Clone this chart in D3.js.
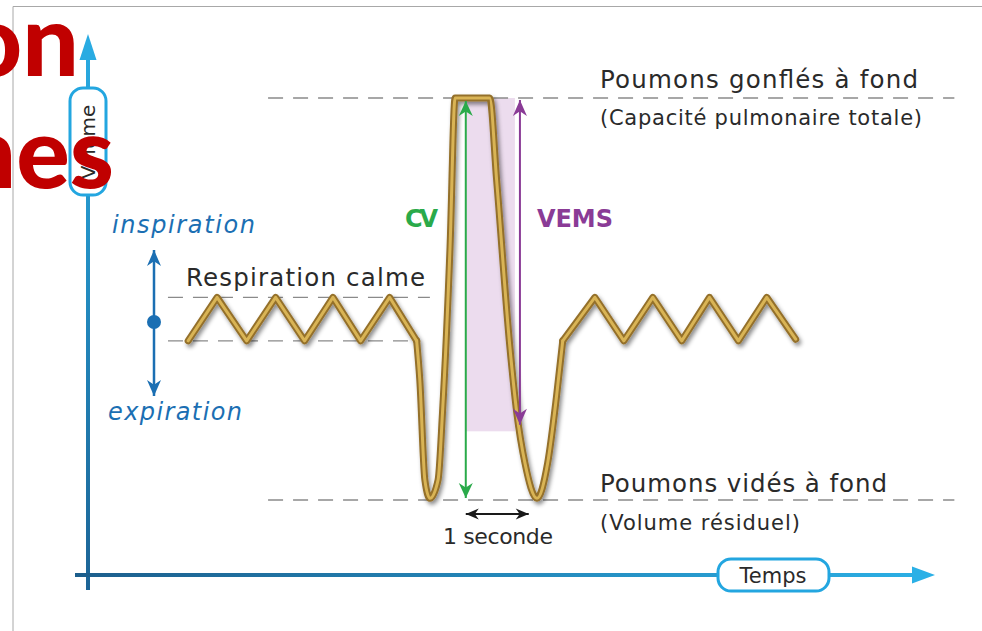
<!DOCTYPE html>
<html>
<head>
<meta charset="utf-8">
<script src="https://cdn.jsdelivr.net/npm/d3@7"></script>
<style>
  body { margin: 0; background: #fff; }
  svg { display: block; font-family: "DejaVu Sans", Roboto, sans-serif; }
</style>
</head>
<body>
<div id="chart"></div>
<script>
// time in seconds, volume in litres
const calmBeforeT = [1.59, 2.05, 2.52, 2.98, 3.44, 3.89, 4.33, 4.79, 5.22];
const calmBeforeV = [3.1, 3.62, 3.1, 3.62, 3.1, 3.62, 3.1, 3.62, 3.1];

const maneuverT = [5.22, 5.27, 5.35, 5.43, 5.56, 5.63, 5.75, 5.83, 6.38, 6.49, 6.70, 6.81, 6.94, 7.13, 7.30, 7.44, 7.54];
const maneuverV = [3.1, 2.63, 1.44, 1.22, 1.44, 2.24, 4.22, 6.0, 6.0, 5.02, 3.03, 2.24, 1.64, 1.22, 1.64, 2.43, 3.1];

const calmAfterT = [7.54, 8.05, 8.51, 8.97, 9.43, 9.87, 10.33, 10.78, 11.24];
const calmAfterV = [3.1, 3.62, 3.1, 3.62, 3.1, 3.62, 3.1, 3.62, 3.12];

// reference levels (dashed lines)
const levelV = [6.0, 1.2, 3.62, 3.1];
const levelStart = [2.86, 2.86, 1.27, 1.27];
const levelEnd = [13.76, 13.76, 5.43, 5.19];

const cvT = 6.0;          // capacité vitale arrow
const vemsT = 6.86;       // VEMS arrow
const vemsV = 2.1;        // volume reached after 1 s
const shadeT = [6.0, 6.78];
const shadeV = [2.02, 6.0];
const secondT = [6.0, 7.0];

const width = 982;
const height = 631;

const x = d3.scaleLinear([0, 13.5], [88, 938]);
const y = d3.scaleLinear([1.2, 6.0], [500, 98]);

const svg = d3.select("#chart")
  .append("svg")
  .attr("width", width)
  .attr("height", height);

const defs = svg.append("defs");

const shadow = defs.append("filter")
  .attr("id", "shadow")
  .attr("x", "-10%").attr("y", "-10%")
  .attr("width", "130%").attr("height", "130%");
shadow.append("feDropShadow")
  .attr("dx", 2).attr("dy", 3)
  .attr("stdDeviation", 2)
  .attr("flood-color", "#000")
  .attr("flood-opacity", 0.45);

const gradY = defs.append("linearGradient")
  .attr("id", "gradY")
  .attr("gradientUnits", "userSpaceOnUse")
  .attr("x1", 0).attr("y1", 40).attr("x2", 0).attr("y2", 590);
gradY.append("stop").attr("offset", 0).attr("stop-color", "#29abe2");
gradY.append("stop").attr("offset", 1).attr("stop-color", "#1c6496");

const gradX = defs.append("linearGradient")
  .attr("id", "gradX")
  .attr("gradientUnits", "userSpaceOnUse")
  .attr("x1", 75).attr("y1", 0).attr("x2", 935).attr("y2", 0);
gradX.append("stop").attr("offset", 0).attr("stop-color", "#1c5e8c");
gradX.append("stop").attr("offset", 1).attr("stop-color", "#2bb0e6");

// screenshot frame
svg.append("path")
  .attr("d", "M13,631 L13,6.5 L982,6.5")
  .attr("fill", "none")
  .attr("stroke", "#a8a8a8")
  .attr("stroke-width", 1);

// VEMS shaded area
svg.append("rect")
  .attr("x", x(shadeT[0]))
  .attr("y", y(shadeV[1]))
  .attr("width", x(shadeT[1]) - x(shadeT[0]))
  .attr("height", y(shadeV[0]) - y(shadeV[1]))
  .attr("fill", "#ecdcee");

// dashed reference lines
svg.append("g")
  .selectAll("line")
  .data(levelV)
  .join("line")
  .attr("x1", (d, i) => x(levelStart[i]))
  .attr("x2", (d, i) => x(levelEnd[i]))
  .attr("y1", (d) => y(d))
  .attr("y2", (d) => y(d))
  .attr("stroke", "#8a8a8a")
  .attr("stroke-width", 1.4)
  .attr("stroke-dasharray", "15,10");

// axes
svg.append("line")
  .attr("x1", 88).attr("x2", 88)
  .attr("y1", 590).attr("y2", 55)
  .attr("stroke", "url(#gradY)")
  .attr("stroke-width", 4);
svg.append("path")
  .attr("d", "M88,34 L79.5,60 L96.5,60 Z")
  .attr("fill", "#29abe2");

svg.append("line")
  .attr("x1", 75).attr("x2", 918)
  .attr("y1", 575).attr("y2", 575)
  .attr("stroke", "url(#gradX)")
  .attr("stroke-width", 4);
svg.append("path")
  .attr("d", "M935,575 L912,566.5 L912,583.5 Z")
  .attr("fill", "#2bb0e6");

// axis label boxes
svg.append("rect")
  .attr("x", 70).attr("y", 88)
  .attr("width", 36).attr("height", 107)
  .attr("rx", 13)
  .attr("fill", "#fff")
  .attr("stroke", "#23a6e0")
  .attr("stroke-width", 3);
svg.append("text")
  .attr("transform", "translate(95,142) rotate(-90)")
  .attr("text-anchor", "middle")
  .attr("font-size", 20)
  .attr("fill", "#2a2a2a")
  .text("Volume");

svg.append("rect")
  .attr("x", 718).attr("y", 559)
  .attr("width", 111).attr("height", 32)
  .attr("rx", 13)
  .attr("fill", "#fff")
  .attr("stroke", "#23a6e0")
  .attr("stroke-width", 3);
svg.append("text")
  .attr("x", 773).attr("y", 583)
  .attr("text-anchor", "middle")
  .attr("font-size", 21)
  .attr("fill", "#2a2a2a")
  .text("Temps");

// the spirogram trace
const zig = d3.line()
  .x((d) => x(d[0]))
  .y((d) => y(d[1]));
const smooth = d3.line()
  .x((d) => x(d[0]))
  .y((d) => y(d[1]))
  .curve(d3.curveMonotoneX);

const traces = [
  zig(d3.zip(calmBeforeT, calmBeforeV)),
  smooth(d3.zip(maneuverT, maneuverV)),
  zig(d3.zip(calmAfterT, calmAfterV))
];

const trace = svg.append("g").attr("filter", "url(#shadow)");
trace.selectAll("path.outer")
  .data(traces)
  .join("path")
  .attr("class", "outer")
  .attr("d", (d) => d)
  .attr("fill", "none")
  .attr("stroke", "#94702a")
  .attr("stroke-width", 7)
  .attr("stroke-linejoin", "round")
  .attr("stroke-linecap", "round");
trace.selectAll("path.inner")
  .data(traces)
  .join("path")
  .attr("class", "inner")
  .attr("d", (d) => d)
  .attr("fill", "none")
  .attr("stroke", "#d9b455")
  .attr("stroke-width", 3)
  .attr("stroke-linejoin", "round")
  .attr("stroke-linecap", "round");

// arrow helper
function arrowHead(g, px, py, angle, color, len, half) {
  g.append("path")
    .attr("d", `M0,0 L${-len},${-half} L${-len * 0.7},0 L${-len},${half} Z`)
    .attr("transform", `translate(${px},${py}) rotate(${angle})`)
    .attr("fill", color);
}

function doubleArrow(x1, y1, x2, y2, color, w, len, half) {
  const g = svg.append("g");
  const a = Math.atan2(y2 - y1, x2 - x1) * 180 / Math.PI;
  g.append("line")
    .attr("x1", x1).attr("y1", y1)
    .attr("x2", x2).attr("y2", y2)
    .attr("stroke", color)
    .attr("stroke-width", w);
  arrowHead(g, x2, y2, a, color, len, half);
  arrowHead(g, x1, y1, a + 180, color, len, half);
}

// CV
doubleArrow(x(cvT), y(6.0) + 3, x(cvT), y(1.2) - 2, "#2aaa4a", 2, 15, 7);
// VEMS
doubleArrow(x(vemsT), y(6.0) + 2, x(vemsT), y(vemsV), "#8a3b96", 2, 16, 7);
// 1 seconde
doubleArrow(x(secondT[0]), 514, x(secondT[1]), 514, "#1a1a1a", 2, 13, 5.5);
// inspiration / expiration
doubleArrow(154, 250, 154, 396, "#1b6fb3", 2.5, 16, 7);
svg.append("circle")
  .attr("cx", 154).attr("cy", 322)
  .attr("r", 7)
  .attr("fill", "#1b6fb3");

// labels
const dark = "#2a2a2a";
function label(txt, px, py, size, len, opts = {}) {
  return svg.append("text")
    .attr("x", px).attr("y", py)
    .attr("font-size", size)
    .attr("fill", opts.color || dark)
    .attr("font-weight", opts.weight || null)
    .attr("font-style", opts.style || null)
    .attr("textLength", len)
    .attr("lengthAdjust", "spacing")
    .text(txt);
}

label("Poumons gonflés à fond", 600, 88, 24.5, 318);
label("(Capacité pulmonaire totale)", 600, 125, 21, 322);
label("Poumons vidés à fond", 600, 492, 24.5, 287);
label("(Volume résiduel)", 600, 530, 21, 200);
label("Respiration calme", 186, 286, 24.5, 239);
label("1 seconde", 443, 544, 22, 110);
label("inspiration", 112, 233, 24, 143, { color: "#1b6fb3", style: "italic" });
label("expiration", 108, 420, 24, 134, { color: "#1b6fb3", style: "italic" });
label("CV", 405, 227, 24, 33, { color: "#2aaa4a", weight: "bold" });
label("VEMS", 537, 227, 24, 76, { color: "#8a3b96", weight: "bold" });

// slide title fragments overlapping the figure
svg.append("text")
  .attr("x", 79).attr("y", 76)
  .attr("text-anchor", "end")
  .attr("font-family", "Lato, sans-serif")
  .attr("font-weight", 900)
  .attr("font-size", 100)
  .attr("fill", "#c00000")
  .text("ion");
svg.append("text")
  .attr("x", 114).attr("y", 188)
  .attr("text-anchor", "end")
  .attr("font-family", "Lato, sans-serif")
  .attr("font-weight", 900)
  .attr("font-size", 100)
  .attr("fill", "#c00000")
  .text("nes");
</script>
</body>
</html>
